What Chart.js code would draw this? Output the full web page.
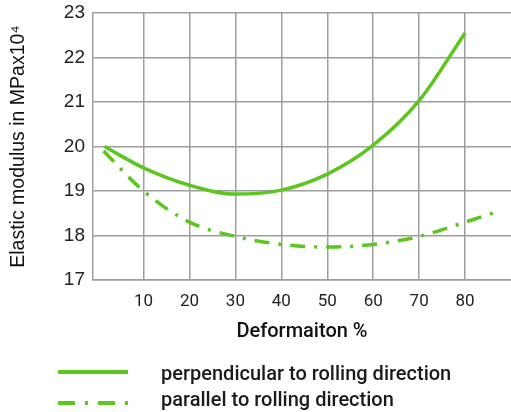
<!DOCTYPE html>
<html>
<head>
<meta charset="utf-8">
<script src="https://cdn.jsdelivr.net/npm/chart.js@4"></script>
<style>
  html, body { margin: 0; padding: 0; background: #fff; }
  #wrap { position: relative; width: 511px; height: 412px; }
  #chart { position: absolute; left: 0; top: 0; }
  .legend-row { position: absolute; left: 0; width: 511px; height: 24px; font-family: Roboto, "Noto Sans", sans-serif; font-weight: 500; font-size: 20px; color: #1a1a1a; }
  .legend-row svg { position: absolute; left: 56px; top: 0; }
  .legend-row span { position: absolute; left: 161px; top: -1px; white-space: nowrap; }
</style>
</head>
<body>
<div id="wrap">
  <canvas id="chart" width="511" height="412"></canvas>
  <div class="legend-row" style="top:362px">
    <svg width="74" height="24"><line x1="2" y1="10" x2="72" y2="10" stroke="#5cc61e" stroke-width="4"></line></svg>
    <span>perpendicular to rolling direction</span>
  </div>
  <div class="legend-row" style="top:388px">
    <svg width="74" height="24"><line x1="2" y1="15" x2="72" y2="15" stroke="#5cc61e" stroke-width="4" stroke-dasharray="17 10 3 10"></line></svg>
    <span>parallel to rolling direction</span>
  </div>
</div>
<script>
const perpX = [1.5, 10, 20, 30, 40, 50, 60, 70, 80];
const perpY = [20.0, 19.52, 19.13, 18.93, 19.02, 19.38, 20.03, 21.03, 22.55];
const paraX = [1.3, 10, 20, 30, 40, 50, 60, 70, 80, 86.5];
const paraY = [19.9, 19.0, 18.3, 17.98, 17.8, 17.74, 17.8, 17.98, 18.3, 18.52];
const xTicks = [10, 20, 30, 40, 50, 60, 70, 80];
const yTicks = [17, 18, 19, 20, 21, 22, 23];

const green = "#5cc61e";
const gridColor = "#9e9e9e";

function toPoints(xs, ys) {
  return xs.map((x, i) => ({ x, y: ys[i] }));
}

new Chart(document.getElementById("chart"), {
  type: "line",
  data: {
    datasets: [{
      label: "perpendicular to rolling direction",
      data: toPoints(perpX, perpY),
      borderColor: green,
      borderWidth: 3.5,
      pointRadius: 0,
      cubicInterpolationMode: "monotone",
      fill: false
    }, {
      label: "parallel to rolling direction",
      data: toPoints(paraX, paraY),
      borderColor: green,
      borderWidth: 3.5,
      borderDash: [15, 9, 3, 9],
      pointRadius: 0,
      cubicInterpolationMode: "monotone",
      fill: false
    }]
  },
  options: {
    responsive: false,
    animation: false,
    layout: { padding: { top: 13, right: 0, bottom: 67, left: 0 } },
    plugins: { legend: { display: false }, tooltip: { enabled: false } },
    scales: {
      x: {
        type: "linear",
        min: -1,
        max: 90,
        afterBuildTicks: (s) => { s.ticks = xTicks.map(v => ({ value: v })); },
        afterFit: (s) => { s.height = 65; s.paddingLeft = 0; s.paddingRight = 0; },
        grid: { color: gridColor, lineWidth: 1.5, drawTicks: false },
        border: { color: gridColor, width: 1.5 },
        ticks: { padding: 12, color: "#222", font: { family: "Roboto", size: 17 } },
        title: {
          display: true,
          text: "Deformaiton %",
          color: "#111",
          font: { family: "Roboto", size: 20, weight: "500" },
          padding: { top: 0, bottom: 1 }
        }
      },
      y: {
        min: 17,
        max: 23,
        afterBuildTicks: (s) => { s.ticks = yTicks.map(v => ({ value: v })); },
        afterFit: (s) => { s.width = 93; s.paddingTop = 0; s.paddingBottom = 0; },
        grid: { color: gridColor, lineWidth: 1.5, drawTicks: false },
        border: { color: gridColor, width: 1.5 },
        ticks: { padding: 8, color: "#222", font: { family: "Liberation Sans", size: 19 } },
        title: {
          display: true,
          text: "Elastic modulus in MPax10\u2074",
          color: "#111",
          font: { family: "Liberation Sans", size: 19.5 },
          padding: { top: 7, bottom: 0 }
        }
      }
    }
  }
});
</script>
</body>
</html>
